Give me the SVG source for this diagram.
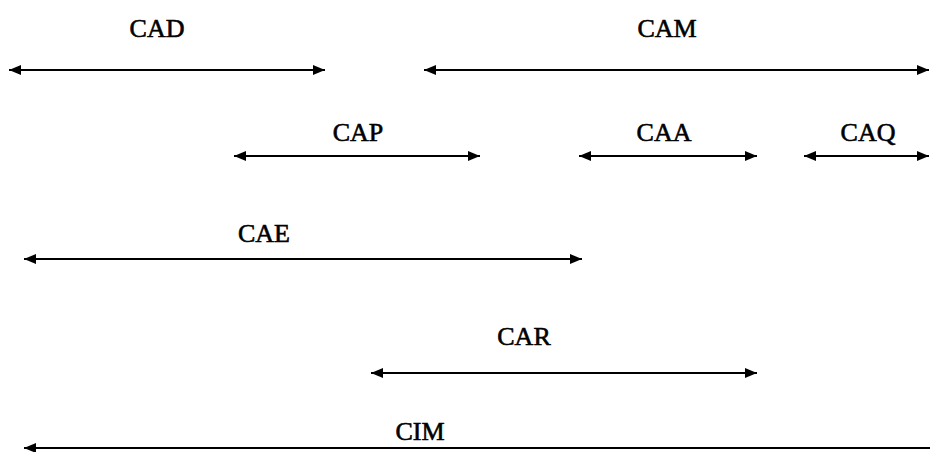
<svg xmlns="http://www.w3.org/2000/svg" width="930" height="452" viewBox="0 0 930 452">
  <style>
    .lbl { font-family: "Liberation Serif", "Times New Roman", serif; font-size: 26px; fill: #000; stroke: #000; stroke-width: 0.6; text-anchor: middle; }
    .span { stroke: #000; stroke-width: 2.2; fill: none; }
  </style>
  <defs>
    <marker id="head" viewBox="0 0 12 10" refX="12" refY="5" markerWidth="12" markerHeight="10" markerUnits="userSpaceOnUse" orient="auto-start-reverse">
      <path d="M0,0 L12,5 L0,10 Z" fill="#000"/>
    </marker>
  </defs>
  <rect width="930" height="452" fill="#fff"/>

  <g id="labels">
    <g id="cad"><text class="lbl" x="157" y="37">CAD</text></g>
    <g id="cam"><text class="lbl" x="667" y="37">CAM</text></g>
    <g id="cap"><text class="lbl" x="358" y="141">CAP</text></g>
    <g id="caa"><text class="lbl" x="664" y="141">CAA</text></g>
    <g id="caq"><text class="lbl" x="868" y="141">CAQ</text></g>
    <g id="cae"><text class="lbl" x="264" y="242">CAE</text></g>
    <g id="car"><text class="lbl" x="524" y="345">CAR</text></g>
    <g id="cim"><text class="lbl" x="420" y="440">CIM</text></g>
  </g>

  <g id="connectors">
    <line class="span" x1="9" y1="70" x2="325" y2="70" marker-start="url(#head)" marker-end="url(#head)"/>
    <line class="span" x1="424" y1="70" x2="929" y2="70" marker-start="url(#head)" marker-end="url(#head)"/>
    <line class="span" x1="234" y1="156" x2="480" y2="156" marker-start="url(#head)" marker-end="url(#head)"/>
    <line class="span" x1="579" y1="156" x2="757" y2="156" marker-start="url(#head)" marker-end="url(#head)"/>
    <line class="span" x1="804" y1="156" x2="929" y2="156" marker-start="url(#head)" marker-end="url(#head)"/>
    <line class="span" x1="24" y1="259" x2="582" y2="259" marker-start="url(#head)" marker-end="url(#head)"/>
    <line class="span" x1="371" y1="373" x2="757" y2="373" marker-start="url(#head)" marker-end="url(#head)"/>
    <line class="span" x1="24" y1="448" x2="930" y2="448" marker-start="url(#head)"/>
  </g>
</svg>
